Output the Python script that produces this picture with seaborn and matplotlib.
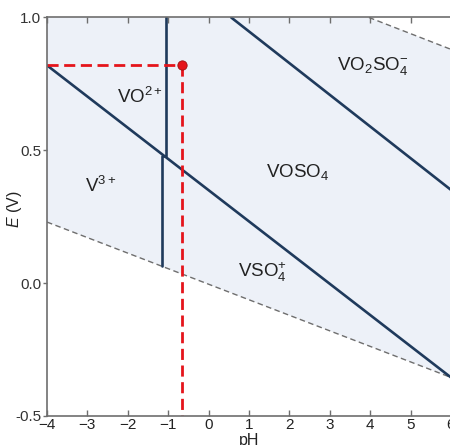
import matplotlib
matplotlib.use("Agg")
import matplotlib.pyplot as plt
import seaborn as sns
import pandas as pd

# ---- data ----
region_pH = [-4, 3.97, 6, 6, -4]
region_E = [1.0, 1.0, 0.88, -0.355, 0.23]

water_upper_pH = [3.97, 6]
water_upper_E = [1.0, 0.88]
water_lower_pH = [-4, 6]
water_lower_E = [0.23, -0.355]

b_main_pH = [-4, 6]
b_main_E = [0.82, -0.355]
b_upper_pH = [0.56, 6]
b_upper_E = [1.0, 0.351]
b_vert_pH = [-1.05, -1.05, -1.15, -1.15]
b_vert_E = [1.0, 0.478, 0.478, 0.065]

point_pH = [-0.65]
point_E = [0.82]

species = ["VO$^{2+}$", "V$^{3+}$", "VOSO$_4$", "VSO$_4^{+}$", "VO$_2$SO$_4^{-}$"]
species_pH = [-1.69, -2.66, 2.2, 1.33, 4.06]
species_E = [0.70, 0.366, 0.42, 0.042, 0.817]

xticks = [-4, -3, -2, -1, 0, 1, 2, 3, 4, 5, 6]
xtick_labels = ["\u22124", "\u22123", "\u22122", "\u22121", "0", "1", "2", "3", "4", "5", "6"]
yticks = [1.0, 0.5, 0.0, -0.5]
ytick_labels = ["1.0", "0.5", "0.0", "-0.5"]

# ---- style ----
sns.set_style("ticks")
plt.rcParams["font.family"] = ["Liberation Sans", "DejaVu Sans"]
plt.rcParams["mathtext.fontset"] = "custom"
plt.rcParams["mathtext.rm"] = "Liberation Sans"
plt.rcParams["mathtext.it"] = "Liberation Sans:italic"
plt.rcParams["mathtext.default"] = "regular"

fig = plt.figure(figsize=(4.5, 4.45), dpi=100)
ax = fig.add_axes([0.1044, 0.0652, 0.8978, 0.8955])

navy = "#1f3a5c"
grey = "#6e6e6e"
red = "#e5141b"

ax.fill(region_pH, region_E, color="#edf1f8", lw=0, zorder=0)

def line(x, y, **kw):
    df = pd.DataFrame({"pH": x, "E": y})
    sns.lineplot(data=df, x="pH", y="E", sort=False, estimator=None, ax=ax, **kw)

line(water_upper_pH, water_upper_E, color=grey, lw=1.0, linestyle=(0, (4, 2.5)))
line(water_lower_pH, water_lower_E, color=grey, lw=1.0, linestyle=(0, (4, 2.5)))
line(b_main_pH, b_main_E, color=navy, lw=1.9)
line(b_upper_pH, b_upper_E, color=navy, lw=1.9)
line(b_vert_pH, b_vert_E, color=navy, lw=1.9)

line([-4, point_pH[0]], [point_E[0], point_E[0]], color=red, lw=2.0, linestyle=(0, (4, 2)))
line([point_pH[0], point_pH[0]], [point_E[0], -0.5], color=red, lw=2.0, linestyle=(0, (4, 2)))
sns.scatterplot(x=point_pH, y=point_E, color=red, s=45, edgecolor="#a01010", linewidth=0.6, ax=ax, zorder=5)

for s, x, y in zip(species, species_pH, species_E):
    ax.text(x, y, s, ha="center", va="center", fontsize=13.5, color="#222222")

ax.set_xlim(-4, 6)
ax.set_ylim(-0.5, 1.0)
ax.set_xticks(xticks)
ax.set_xticklabels(xtick_labels)
ax.set_yticks(yticks)
ax.set_yticklabels(ytick_labels)
ax.tick_params(axis="x", direction="in", top=True, bottom=True, length=4, width=1.0,
               color=grey, labelsize=11, labelcolor="#222222", pad=1.5)
ax.tick_params(axis="y", direction="out", left=True, length=3, width=1.0,
               color=grey, labelsize=11, labelcolor="#333333", pad=1)

for side in ["left", "bottom", "top"]:
    ax.spines[side].set_visible(True)
    ax.spines[side].set_color(grey)
    ax.spines[side].set_linewidth(1.2)
ax.spines["right"].set_visible(False)

ax.set_xlabel("pH", fontsize=11.5, color="#222222", va="top")
ax.set_ylabel("$\\mathit{E}$ (V)", fontsize=11.5, color="#222222")
ax.xaxis.set_label_coords(0.50, -0.043)
ax.yaxis.set_label_coords(-0.057, 0.52)

fig.savefig("out.png", dpi=100)
